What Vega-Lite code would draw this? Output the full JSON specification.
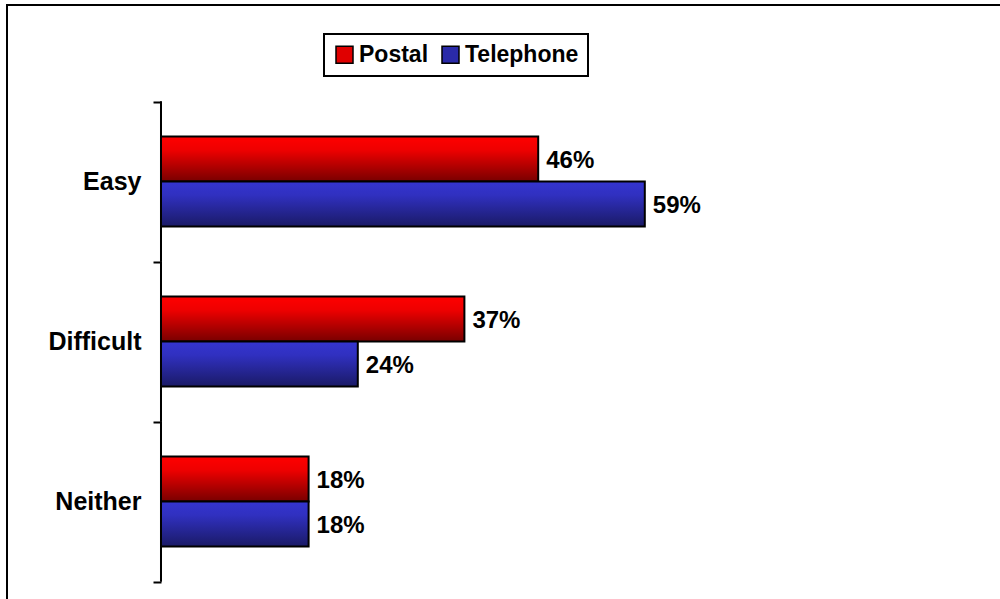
{
  "$schema": "https://vega.github.io/schema/vega-lite/v6.json",
  "width": 1000,
  "height": 620,
  "autosize": {"type": "none"},
  "padding": {"left": 7, "top": 5, "right": 0, "bottom": 0},
  "background": "white",
  "config": {
    "view": {"stroke": "black", "strokeWidth": 2},
    "font": "Liberation Sans"
  },
  "data": {
    "values": [
      {"category": "Easy", "series": "Postal", "value": 0.46},
      {"category": "Easy", "series": "Telephone", "value": 0.59},
      {"category": "Difficult", "series": "Postal", "value": 0.37},
      {"category": "Difficult", "series": "Telephone", "value": 0.24},
      {"category": "Neither", "series": "Postal", "value": 0.18},
      {"category": "Neither", "series": "Telephone", "value": 0.18}
    ]
  },
  "encoding": {
    "y": {
      "field": "category",
      "type": "nominal",
      "scale": {"domain": ["Easy", "Difficult", "Neither"], "paddingInner": 0, "paddingOuter": 0.4375, "align": 0.69},
      "axis": {
        "title": null,
        "offset": -154,
        "domain": false,
        "grid": false,
        "tickBand": "extent",
        "ticks": true,
        "tickSize": 8,
        "tickWidth": 2,
        "tickColor": "black",
        "labelFont": "Liberation Sans",
        "labelFontWeight": "bold",
        "labelFontSize": 25,
        "labelColor": "black",
        "labelPadding": 12
      }
    },
    "x": {
      "field": "value",
      "type": "quantitative",
      "scale": {"domain": [-0.1878, 1.0317], "nice": false, "zero": false},
      "axis": null
    }
  },
  "layer": [
    {
      "transform": [{"filter": "datum.series === 'Postal'"}],
      "mark": {
        "type": "bar",
        "stroke": "black",
        "strokeWidth": 2,
        "fill": {
          "gradient": "linear", "x1": 0, "y1": 0, "x2": 0, "y2": 1,
          "stops": [
            {"offset": 0, "color": "#ff0000"},
            {"offset": 0.3, "color": "#ee0000"},
            {"offset": 1, "color": "#780000"}
          ]
        }
      },
      "encoding": {
        "yOffset": {"field": "series", "type": "nominal", "scale": {"domain": ["Postal", "Telephone"], "paddingInner": 0, "paddingOuter": 0.7778}}
      }
    },
    {
      "transform": [{"filter": "datum.series === 'Telephone'"}],
      "mark": {
        "type": "bar",
        "stroke": "black",
        "strokeWidth": 2,
        "fill": {
          "gradient": "linear", "x1": 0, "y1": 0, "x2": 0, "y2": 1,
          "stops": [
            {"offset": 0, "color": "#3535d0"},
            {"offset": 0.3, "color": "#3030c0"},
            {"offset": 1, "color": "#1a1a66"}
          ]
        }
      },
      "encoding": {
        "yOffset": {"field": "series", "type": "nominal", "scale": {"domain": ["Postal", "Telephone"], "paddingInner": 0, "paddingOuter": 0.7778}}
      }
    },
    {
      "mark": {"type": "text", "align": "left", "baseline": "middle", "dx": 8, "dy": 2, "font": "Liberation Sans", "fontSize": 24, "fontWeight": "bold", "color": "black"},
      "encoding": {
        "yOffset": {"field": "series", "type": "nominal", "scale": {"domain": ["Postal", "Telephone"], "paddingInner": 0, "paddingOuter": 0.7778}},
        "text": {"field": "value", "type": "quantitative", "format": ".0%"}
      }
    },
    {
      "mark": {"type": "bar", "fill": "transparent", "stroke": "black", "strokeWidth": 2},
      "encoding": {
        "x": {"datum": 0},
        "x2": {"datum": 0}
      }
    },
    {
      "mark": {"type": "square", "opacity": 0},
      "encoding": {
        "color": {
          "field": "series",
          "type": "nominal",
          "scale": {"domain": ["Postal", "Telephone"], "range": ["#e00000", "#2a2aa8"]},
          "legend": {
            "title": null,
            "orient": "none",
            "legendX": 317,
            "legendY": 29,
            "direction": "horizontal",
            "strokeColor": "black",
            "fillColor": "white",
            "padding": 9,
            "symbolType": "square",
            "symbolSize": 289,
            "symbolStrokeColor": "black",
            "symbolStrokeWidth": 1.5,
            "symbolOpacity": 1,
            "labelFont": "Liberation Sans",
            "labelFontSize": 23,
            "labelFontWeight": "bold",
            "labelColor": "black",
            "labelOffset": 3,
            "columnPadding": 10,
            "encode": {
              "legend": {"update": {"strokeWidth": {"value": 2}}}
            }
          }
        }
      }
    }
  ]
}
